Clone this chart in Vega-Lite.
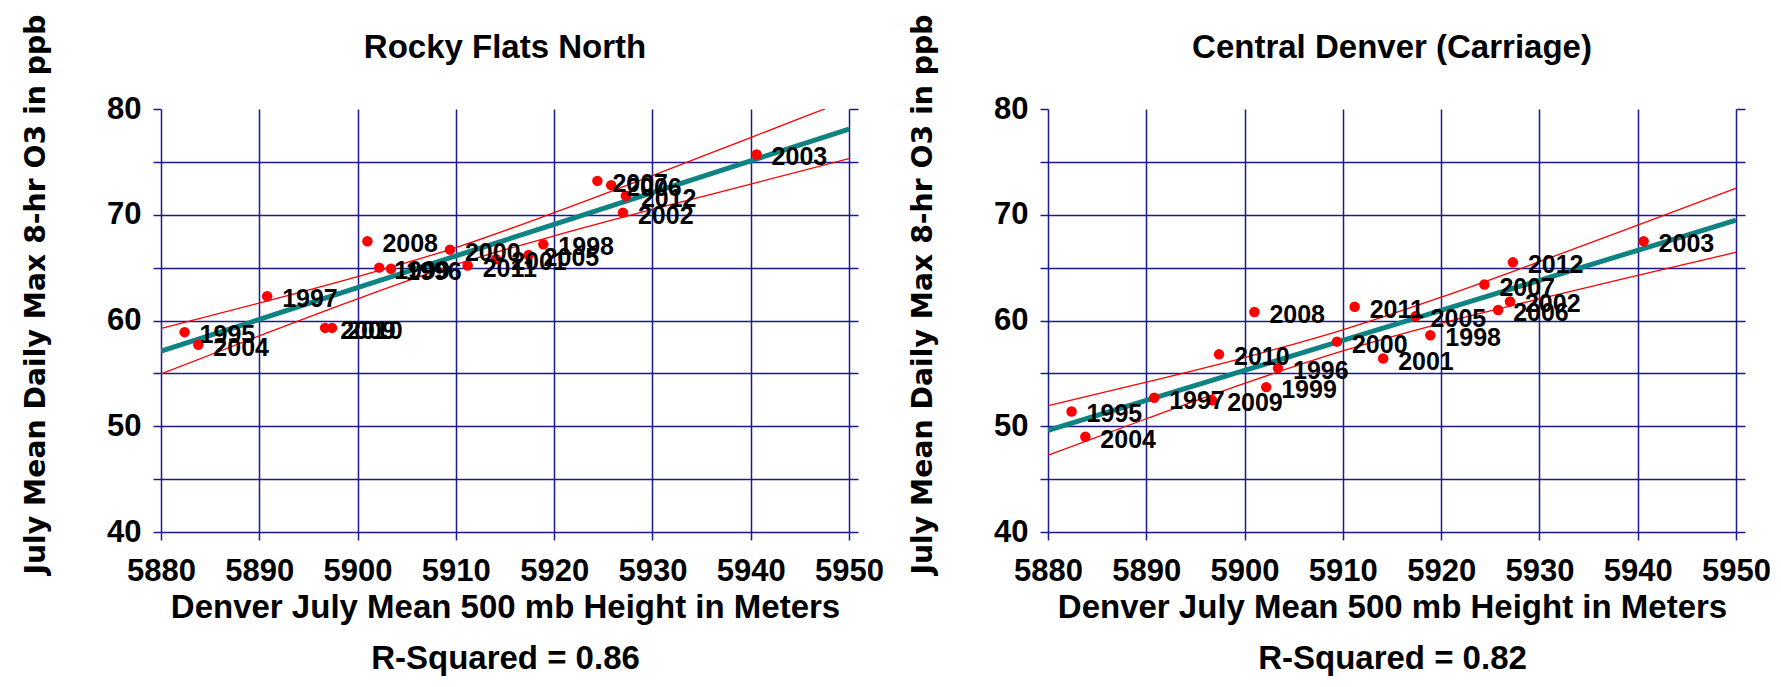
{
  "$schema": "https://vega.github.io/schema/vega-lite/v6.json",
  "background": "white",
  "padding": {"left": 20, "top": 13, "right": 5, "bottom": 5},
  "spacing": 23,
  "config": {"view": {"stroke": null}, "font": "Liberation Sans"},
  "datasets": {
    "pts": [
      {"site": "RFN", "year": "1995", "height": 5882.4, "o3": 58.9},
      {"site": "RFN", "year": "1996", "height": 5903.4, "o3": 64.9},
      {"site": "RFN", "year": "1997", "height": 5890.8, "o3": 62.3},
      {"site": "RFN", "year": "1998", "height": 5918.9, "o3": 67.2},
      {"site": "RFN", "year": "1999", "height": 5902.2, "o3": 65.0},
      {"site": "RFN", "year": "2000", "height": 5909.4, "o3": 66.7},
      {"site": "RFN", "year": "2001", "height": 5914.1, "o3": 65.8},
      {"site": "RFN", "year": "2002", "height": 5927.0, "o3": 70.2},
      {"site": "RFN", "year": "2003", "height": 5940.6, "o3": 75.7},
      {"site": "RFN", "year": "2004", "height": 5883.8, "o3": 57.7},
      {"site": "RFN", "year": "2005", "height": 5917.4, "o3": 66.2},
      {"site": "RFN", "year": "2006", "height": 5925.8, "o3": 72.8},
      {"site": "RFN", "year": "2007", "height": 5924.4, "o3": 73.2},
      {"site": "RFN", "year": "2008", "height": 5901.0, "o3": 67.5},
      {"site": "RFN", "year": "2009", "height": 5896.7, "o3": 59.3},
      {"site": "RFN", "year": "2010", "height": 5897.4, "o3": 59.3},
      {"site": "RFN", "year": "2011", "height": 5911.2, "o3": 65.2},
      {"site": "RFN", "year": "2012", "height": 5927.3, "o3": 71.8},
      {"site": "CAR", "year": "1995", "height": 5882.4, "o3": 51.4},
      {"site": "CAR", "year": "1996", "height": 5903.4, "o3": 55.5},
      {"site": "CAR", "year": "1997", "height": 5890.8, "o3": 52.7},
      {"site": "CAR", "year": "1998", "height": 5918.9, "o3": 58.6},
      {"site": "CAR", "year": "1999", "height": 5902.2, "o3": 53.7},
      {"site": "CAR", "year": "2000", "height": 5909.4, "o3": 58.0},
      {"site": "CAR", "year": "2001", "height": 5914.1, "o3": 56.4},
      {"site": "CAR", "year": "2002", "height": 5927.0, "o3": 61.8},
      {"site": "CAR", "year": "2003", "height": 5940.6, "o3": 67.5},
      {"site": "CAR", "year": "2004", "height": 5883.8, "o3": 49.0},
      {"site": "CAR", "year": "2005", "height": 5917.4, "o3": 60.4},
      {"site": "CAR", "year": "2006", "height": 5925.8, "o3": 61.0},
      {"site": "CAR", "year": "2007", "height": 5924.4, "o3": 63.4},
      {"site": "CAR", "year": "2008", "height": 5901.0, "o3": 60.8},
      {"site": "CAR", "year": "2009", "height": 5896.7, "o3": 52.45},
      {"site": "CAR", "year": "2010", "height": 5897.4, "o3": 56.8},
      {"site": "CAR", "year": "2011", "height": 5911.2, "o3": 61.3},
      {"site": "CAR", "year": "2012", "height": 5927.3, "o3": 65.5}
    ],
    "fit": [
      {"site": "RFN", "height": 5880, "fit": 57.1, "lo": 54.95, "hi": 59.25},
      {"site": "RFN", "height": 5890, "fit": 60.1, "lo": 58.55, "hi": 61.65},
      {"site": "RFN", "height": 5900, "fit": 63.1, "lo": 62.05, "hi": 64.15},
      {"site": "RFN", "height": 5910, "fit": 66.1, "lo": 65.3, "hi": 66.9},
      {"site": "RFN", "height": 5920, "fit": 69.1, "lo": 68.0, "hi": 70.2},
      {"site": "RFN", "height": 5930, "fit": 72.1, "lo": 70.5, "hi": 73.7},
      {"site": "RFN", "height": 5940, "fit": 75.1, "lo": 72.9, "hi": 77.3},
      {"site": "RFN", "height": 5950, "fit": 78.1, "lo": 75.3, "hi": 80.9},
      {"site": "CAR", "height": 5880, "fit": 49.6, "lo": 47.25, "hi": 51.95},
      {"site": "CAR", "height": 5890, "fit": 52.44, "lo": 50.71, "hi": 54.17},
      {"site": "CAR", "height": 5900, "fit": 55.28, "lo": 54.06, "hi": 56.5},
      {"site": "CAR", "height": 5910, "fit": 58.12, "lo": 57.12, "hi": 59.12},
      {"site": "CAR", "height": 5920, "fit": 60.96, "lo": 59.72, "hi": 62.2},
      {"site": "CAR", "height": 5930, "fit": 63.8, "lo": 62.04, "hi": 65.56},
      {"site": "CAR", "height": 5940, "fit": 66.64, "lo": 64.26, "hi": 69.02},
      {"site": "CAR", "height": 5950, "fit": 69.48, "lo": 66.45, "hi": 72.51}
    ]
  },
  "hconcat": [
    {
      "width": 688, "height": 423,
      "title": {"text": "Rocky Flats North", "font": "Liberation Sans", "fontSize": 33, "fontWeight": "bold", "color": "black", "offset": -51, "anchor": "middle", "frame": "group"},
      "encoding": {
        "x": {"field": "height", "type": "quantitative", "scale": {"domain": [5880, 5950], "nice": false, "zero": false},
          "axis": {"values": [5880, 5890, 5900, 5910, 5920, 5930, 5940, 5950], "format": "d", "grid": true, "gridColor": "#1b1b8f", "gridWidth": 1.5, "domain": false, "ticks": true, "tickSize": 8, "tickColor": "#1b1b8f", "tickWidth": 1.5, "labelFont": "Liberation Sans", "labelFontSize": 31, "labelFontWeight": "bold", "labelColor": "black", "labelPadding": 16, "labelFlush": false, "labelOverlap": false,
            "title": ["Denver July Mean 500 mb Height in Meters", "R-Squared = 0.86"], "titleFont": "Liberation Sans", "titleFontSize": 33, "titleFontWeight": "bold", "titleColor": "black", "titleLineHeight": 51, "titlePadding": 5}}
      },
      "resolve": {"axis": {"y": "independent"}},
      "layer": [
        {"data": {"name": "fit"}, "transform": [{"filter": "datum.site === 'RFN'"}],
          "mark": {"type": "line", "color": "#ff0000", "strokeWidth": 1.3, "interpolate": "monotone", "clip": true},
          "encoding": {"y": {"field": "hi", "type": "quantitative", "scale": {"domain": [40, 80], "nice": false, "zero": false},
            "axis": {"orient": "left", "values": [40, 45, 50, 55, 60, 65, 70, 75, 80], "labelExpr": "datum.value % 10 === 0 ? datum.label : ''", "grid": true, "gridColor": "#1b1b8f", "gridWidth": 1.5, "gridOpacity": {"condition": {"test": "datum.value === 80", "value": 0}, "value": 1}, "domain": false, "tickSize": 8, "tickColor": "#1b1b8f", "tickWidth": 1.5, "labelFont": "Liberation Sans", "labelFontSize": 31, "labelFontWeight": "bold", "labelColor": "black", "labelPadding": 12, "labelOverlap": false,
              "title": "July Mean Daily Max 8-hr O3 in ppb", "titleFont": "DejaVu Sans", "titleFontSize": 28.3, "titleFontWeight": "bold", "titleColor": "black", "titleX": -125, "titleY": 185, "titleBaseline": "middle", "titleAngle": -90}}}},
        {"data": {"name": "fit"}, "transform": [{"filter": "datum.site === 'RFN'"}],
          "mark": {"type": "line", "color": "#ff0000", "strokeWidth": 1.3, "interpolate": "monotone", "clip": true},
          "encoding": {"y": {"field": "lo", "type": "quantitative",
            "axis": {"orient": "right", "values": [40, 45, 50, 55, 60, 65, 70, 75, 80], "labels": false, "grid": false, "domain": false, "tickSize": 9, "tickColor": "#1b1b8f", "tickWidth": 1.5, "title": null}}}},
        {"data": {"name": "fit"}, "transform": [{"filter": "datum.site === 'RFN'"}],
          "mark": {"type": "line", "color": "#0f8282", "strokeWidth": 5, "clip": true},
          "encoding": {"y": {"field": "fit", "type": "quantitative", "axis": null}}},
        {"data": {"name": "pts"}, "transform": [{"filter": "datum.site === 'RFN'"}],
          "mark": {"type": "circle", "color": "#ff0000", "opacity": 1, "size": 110},
          "encoding": {"y": {"field": "o3", "type": "quantitative", "axis": null}}},
        {"data": {"name": "pts"}, "transform": [{"filter": "datum.site === 'RFN'"}],
          "mark": {"type": "text", "align": "left", "baseline": "middle", "dx": 15, "dy": 3, "font": "Liberation Sans", "fontSize": 25, "fontWeight": "bold", "color": "black"},
          "encoding": {"y": {"field": "o3", "type": "quantitative", "axis": null}, "text": {"field": "year"}}}
      ]
    },
    {
      "width": 688, "height": 423,
      "title": {"text": "Central Denver (Carriage)", "font": "Liberation Sans", "fontSize": 33, "fontWeight": "bold", "color": "black", "offset": -51, "anchor": "middle", "frame": "group"},
      "encoding": {
        "x": {"field": "height", "type": "quantitative", "scale": {"domain": [5880, 5950], "nice": false, "zero": false},
          "axis": {"values": [5880, 5890, 5900, 5910, 5920, 5930, 5940, 5950], "format": "d", "grid": true, "gridColor": "#1b1b8f", "gridWidth": 1.5, "domain": false, "ticks": true, "tickSize": 8, "tickColor": "#1b1b8f", "tickWidth": 1.5, "labelFont": "Liberation Sans", "labelFontSize": 31, "labelFontWeight": "bold", "labelColor": "black", "labelPadding": 16, "labelFlush": false, "labelOverlap": false,
            "title": ["Denver July Mean 500 mb Height in Meters", "R-Squared = 0.82"], "titleFont": "Liberation Sans", "titleFontSize": 33, "titleFontWeight": "bold", "titleColor": "black", "titleLineHeight": 51, "titlePadding": 5}}
      },
      "resolve": {"axis": {"y": "independent"}},
      "layer": [
        {"data": {"name": "fit"}, "transform": [{"filter": "datum.site === 'CAR'"}],
          "mark": {"type": "line", "color": "#ff0000", "strokeWidth": 1.3, "interpolate": "monotone", "clip": true},
          "encoding": {"y": {"field": "hi", "type": "quantitative", "scale": {"domain": [40, 80], "nice": false, "zero": false},
            "axis": {"orient": "left", "values": [40, 45, 50, 55, 60, 65, 70, 75, 80], "labelExpr": "datum.value % 10 === 0 ? datum.label : ''", "grid": true, "gridColor": "#1b1b8f", "gridWidth": 1.5, "gridOpacity": {"condition": {"test": "datum.value === 80", "value": 0}, "value": 1}, "domain": false, "tickSize": 8, "tickColor": "#1b1b8f", "tickWidth": 1.5, "labelFont": "Liberation Sans", "labelFontSize": 31, "labelFontWeight": "bold", "labelColor": "black", "labelPadding": 12, "labelOverlap": false,
              "title": "July Mean Daily Max 8-hr O3 in ppb", "titleFont": "DejaVu Sans", "titleFontSize": 28.3, "titleFontWeight": "bold", "titleColor": "black", "titleX": -125, "titleY": 185, "titleBaseline": "middle", "titleAngle": -90}}}},
        {"data": {"name": "fit"}, "transform": [{"filter": "datum.site === 'CAR'"}],
          "mark": {"type": "line", "color": "#ff0000", "strokeWidth": 1.3, "interpolate": "monotone", "clip": true},
          "encoding": {"y": {"field": "lo", "type": "quantitative",
            "axis": {"orient": "right", "values": [40, 45, 50, 55, 60, 65, 70, 75, 80], "labels": false, "grid": false, "domain": false, "tickSize": 9, "tickColor": "#1b1b8f", "tickWidth": 1.5, "title": null}}}},
        {"data": {"name": "fit"}, "transform": [{"filter": "datum.site === 'CAR'"}],
          "mark": {"type": "line", "color": "#0f8282", "strokeWidth": 5, "clip": true},
          "encoding": {"y": {"field": "fit", "type": "quantitative", "axis": null}}},
        {"data": {"name": "pts"}, "transform": [{"filter": "datum.site === 'CAR'"}],
          "mark": {"type": "circle", "color": "#ff0000", "opacity": 1, "size": 110},
          "encoding": {"y": {"field": "o3", "type": "quantitative", "axis": null}}},
        {"data": {"name": "pts"}, "transform": [{"filter": "datum.site === 'CAR'"}],
          "mark": {"type": "text", "align": "left", "baseline": "middle", "dx": 15, "dy": 3, "font": "Liberation Sans", "fontSize": 25, "fontWeight": "bold", "color": "black"},
          "encoding": {"y": {"field": "o3", "type": "quantitative", "axis": null}, "text": {"field": "year"}}}
      ]
    }
  ]
}
